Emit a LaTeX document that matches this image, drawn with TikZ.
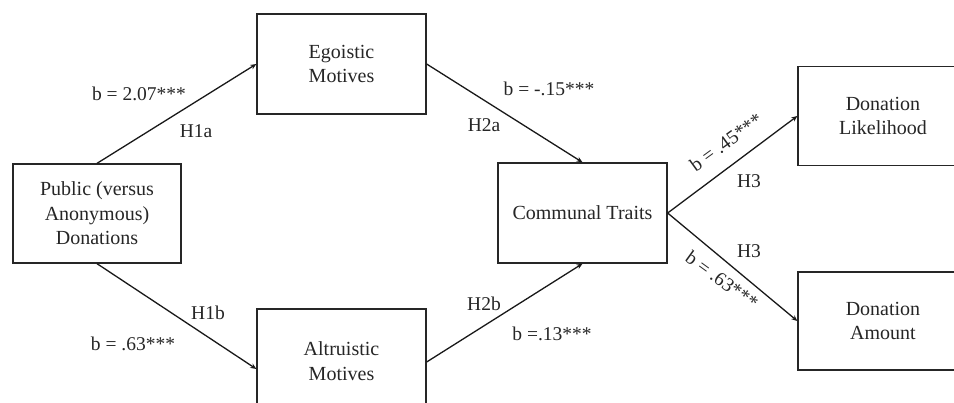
\documentclass[tikz,border=0pt]{standalone}
\usepackage{fontspec}
\setmainfont{Liberation Serif}
\usetikzlibrary{arrows.meta,calc}
\tikzset{
  box/.style={draw=black!85, line width=1.3pt, rectangle, align=center, inner sep=0pt,
    font=\fontsize{20}{24.5}\selectfont, text=black!85},
  conn/.style={draw=black!90, line width=1.3pt, -{Stealth[length=6pt,width=5pt]}},
  lab/.style={font=\fontsize{19.5}{23}\selectfont, text=black!85, inner sep=0pt}
}
\begin{document}
\begin{tikzpicture}[x=1pt,y=-1pt]
\useasboundingbox[fill=white] (0,0) rectangle (954,402);
\node[box, minimum width=168pt, minimum height=99pt] (pub) at (97,213.5) {Public (versus\\Anonymous)\\Donations};
\node[box, minimum width=169pt, minimum height=100pt] (ego) at (341.5,64) {Egoistic\\Motives};
\node[box, minimum width=169pt, minimum height=104pt] (alt) at (341.5,361) {Altruistic\\Motives};
\node[box, minimum width=169pt, minimum height=100pt] (com) at (582.5,213) {Communal Traits};
\node[box, minimum width=170pt, minimum height=99pt] (lik) at (883,116) {Donation\\Likelihood};
\node[box, minimum width=170pt, minimum height=98pt] (amt) at (883,321) {Donation\\Amount};
\draw[conn] (pub.north) -- (ego.west);
\draw[conn] (pub.south) -- ($(alt.west)+(0,8)$);
\draw[conn] (ego.east) -- (com.north);
\draw[conn] ($(alt.east)+(0,1)$) -- (com.south);
\draw[conn] (com.east) -- (lik.west);
\draw[conn] (com.east) -- (amt.west);
\node[lab] (l1) at (139,94) {b = 2.07***};
\node[lab] (l2) at (196,131) {H1a};
\node[lab] (l3) at (208,313) {H1b};
\node[lab] (l4) at (133,344) {b = .63***};
\node[lab] (l5) at (549,89) {b = -.15***};
\node[lab] (l6) at (484,125) {H2a};
\node[lab] (l7) at (484,304) {H2b};
\node[lab] (l8) at (552,334) {b =.13***};
\node[lab, rotate=36] (l9) at (726,142) {b = .45***};
\node[lab] (l10) at (749,181) {H3};
\node[lab] (l11) at (749,251) {H3};
\node[lab, rotate=-36] (l12) at (722,280) {b = .63***};
\end{tikzpicture}
\end{document}
